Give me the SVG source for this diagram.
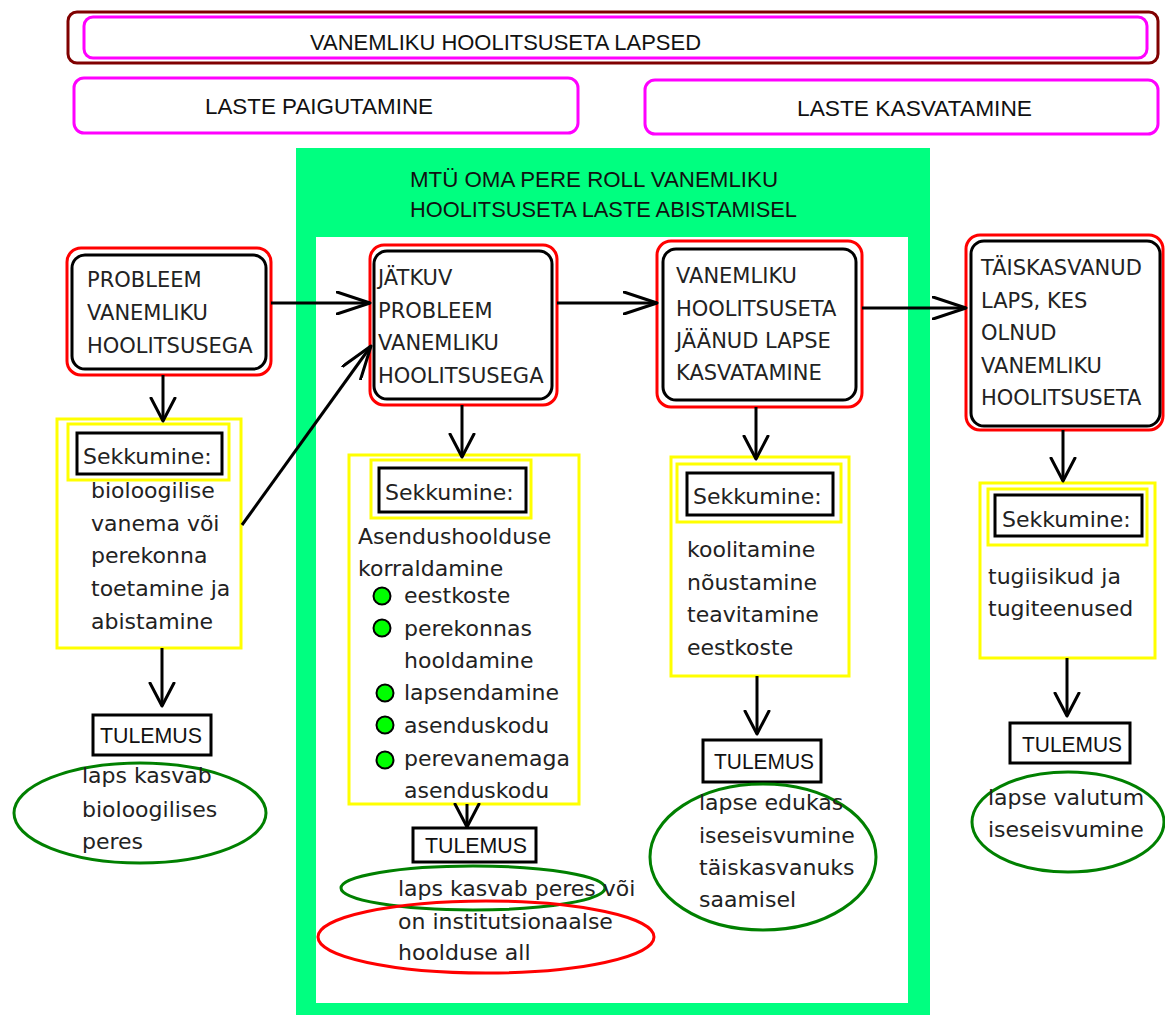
<svg xmlns="http://www.w3.org/2000/svg" width="1165" height="1020" viewBox="0 0 1165 1020">
<defs>
<style>
.mag{fill:#fff;stroke:#ff00ff;stroke-width:3}
.dred{fill:none;stroke:#800000;stroke-width:3}
.top{font-family:"Liberation Sans",Arial,sans-serif;font-size:22px;fill:#111}
.red{fill:#fff;stroke:#ff0000;stroke-width:3}
.blk{fill:none;stroke:#000;stroke-width:3}
.nt{font-family:"DejaVu Sans",Verdana,sans-serif;font-size:21px;fill:#222}
.yel{fill:#fff;stroke:#ffff00;stroke-width:3}
.yin{fill:none;stroke:#ffff00;stroke-width:3}
.sk{fill:#fff;stroke:#000;stroke-width:3}
.bt{font-family:"DejaVu Sans",Verdana,sans-serif;font-size:22px;fill:#222}
.tul{font-family:"Liberation Sans",Arial,sans-serif;font-size:22px;fill:#111}
.ge{fill:none;stroke:#008000;stroke-width:3}
.re{fill:none;stroke:#ff0000;stroke-width:3}
.bul{fill:#00ff00;stroke:#000;stroke-width:2}
.con{fill:none;stroke:#000;stroke-width:3}
</style>
<marker id="hl" viewBox="0 0 36 24" refX="34" refY="12" markerWidth="36" markerHeight="24" markerUnits="userSpaceOnUse" orient="auto">
<path d="M1,1 L34,12 L1,23" fill="none" stroke="#000" stroke-width="3" stroke-linejoin="round" stroke-linecap="round"/>
</marker>
<marker id="hv" viewBox="0 0 26 28" refX="24" refY="14" markerWidth="26" markerHeight="28" markerUnits="userSpaceOnUse" orient="auto">
<path d="M1,2 L24,14 L1,26" fill="none" stroke="#000" stroke-width="3" stroke-linejoin="round" stroke-linecap="round"/>
</marker>
</defs>
<rect width="1165" height="1020" fill="#fff"/>

<g id="header">
<rect x="68" y="12" width="1090" height="51" rx="9" class="dred"/>
<rect x="84" y="17" width="1063" height="41" rx="9" class="mag"/>
<text x="310" y="50" class="top" textLength="391" lengthAdjust="spacingAndGlyphs">VANEMLIKU HOOLITSUSETA LAPSED</text>
</g>
<g id="paigutamine">
<rect x="74" y="78" width="504" height="55" rx="10" class="mag"/>
<text x="205" y="114" class="top" textLength="228" lengthAdjust="spacingAndGlyphs">LASTE PAIGUTAMINE</text>
</g>
<g id="kasvatamine">
<rect x="645" y="80" width="513" height="54" rx="10" class="mag"/>
<text x="797" y="116" class="top" textLength="235" lengthAdjust="spacingAndGlyphs">LASTE KASVATAMINE</text>
</g>

<g id="mtu">
<rect x="296" y="148" width="634" height="867" fill="#00ff80"/>
<rect x="316" y="237" width="592" height="766" fill="#fff"/>
<text x="410" y="187" class="top" textLength="368" lengthAdjust="spacingAndGlyphs">MTÜ OMA PERE ROLL VANEMLIKU</text>
<text x="410" y="217" class="top" textLength="387" lengthAdjust="spacingAndGlyphs">HOOLITSUSETA LASTE ABISTAMISEL</text>
</g>

<g id="n1">
<rect x="67" y="248" width="204" height="127" rx="14" class="red"/>
<rect x="72" y="255" width="194" height="114" rx="13" class="blk"/>
<text class="nt"><tspan x="87" y="287">PROBLEEM</tspan><tspan x="87" y="320">VANEMLIKU</tspan><tspan x="87" y="353">HOOLITSUSEGA</tspan></text>
</g>
<g id="n2">
<rect x="370" y="245" width="187" height="160" rx="14" class="red"/>
<rect x="374" y="251" width="178" height="148" rx="13" class="blk"/>
<text class="nt"><tspan x="378" y="285">JÄTKUV</tspan><tspan x="378" y="318">PROBLEEM</tspan><tspan x="378" y="350">VANEMLIKU</tspan><tspan x="378" y="383">HOOLITSUSEGA</tspan></text>
</g>
<g id="n3">
<rect x="657" y="241" width="205" height="166" rx="14" class="red"/>
<rect x="663" y="249" width="193" height="151" rx="13" class="blk"/>
<text class="nt"><tspan x="676" y="283">VANEMLIKU</tspan><tspan x="676" y="316">HOOLITSUSETA</tspan><tspan x="676" y="348">JÄÄNUD LAPSE</tspan><tspan x="676" y="380">KASVATAMINE</tspan></text>
</g>
<g id="n4">
<rect x="966" y="235" width="197" height="195" rx="14" class="red"/>
<rect x="971" y="241" width="189" height="185" rx="13" class="blk"/>
<text class="nt"><tspan x="981" y="275">TÄISKASVANUD</tspan><tspan x="981" y="308">LAPS, KES</tspan><tspan x="981" y="340">OLNUD</tspan><tspan x="981" y="373">VANEMLIKU</tspan><tspan x="981" y="405">HOOLITSUSETA</tspan></text>
</g>

<g id="s1">
<rect x="57" y="419" width="184" height="229" class="yel"/>
<rect x="68" y="424" width="161" height="56" class="yin"/>
<rect x="77" y="433" width="145" height="41" class="sk"/>
<text x="83" y="464" class="bt">Sekkumine:</text>
<text class="bt"><tspan x="91" y="498">bioloogilise</tspan><tspan x="91" y="531">vanema või</tspan><tspan x="91" y="563">perekonna</tspan><tspan x="91" y="596">toetamine ja</tspan><tspan x="91" y="629">abistamine</tspan></text>
</g>
<g id="s2">
<rect x="349" y="455" width="230" height="349" class="yel"/>
<rect x="371" y="460" width="160" height="58" class="yin"/>
<rect x="379" y="468" width="147" height="44" class="sk"/>
<text x="385" y="500" class="bt">Sekkumine:</text>
<text class="bt"><tspan x="358" y="544">Asendushoolduse</tspan><tspan x="358" y="576">korraldamine</tspan></text>
<circle cx="382" cy="596" r="8.5" class="bul"/>
<circle cx="382" cy="628" r="8.5" class="bul"/>
<circle cx="385" cy="693" r="8.5" class="bul"/>
<circle cx="385" cy="725" r="8.5" class="bul"/>
<circle cx="385" cy="760" r="8.5" class="bul"/>
<text class="bt"><tspan x="404" y="603">eestkoste</tspan><tspan x="404" y="636">perekonnas</tspan><tspan x="404" y="668">hooldamine</tspan><tspan x="404" y="700">lapsendamine</tspan><tspan x="404" y="733">asenduskodu</tspan><tspan x="404" y="766">perevanemaga</tspan><tspan x="404" y="798">asenduskodu</tspan></text>
</g>
<g id="s3">
<rect x="671" y="457" width="178" height="219" class="yel"/>
<rect x="677" y="464" width="164" height="58" class="yin"/>
<rect x="687" y="473" width="146" height="42" class="sk"/>
<text x="693" y="504" class="bt">Sekkumine:</text>
<text class="bt"><tspan x="687" y="557">koolitamine</tspan><tspan x="687" y="590">nõustamine</tspan><tspan x="687" y="622">teavitamine</tspan><tspan x="687" y="655">eestkoste</tspan></text>
</g>
<g id="s4">
<rect x="980" y="483" width="175" height="175" class="yel"/>
<rect x="988" y="489" width="159" height="56" class="yin"/>
<rect x="995" y="495" width="147" height="41" class="sk"/>
<text x="1002" y="527" class="bt">Sekkumine:</text>
<text class="bt"><tspan x="988" y="584">tugiisikud ja</tspan><tspan x="988" y="616">tugiteenused</tspan></text>
</g>

<g id="t1">
<rect x="93" y="715" width="118" height="40" class="sk"/>
<text x="100" y="743" class="tul" textLength="102" lengthAdjust="spacingAndGlyphs">TULEMUS</text>
</g>
<g id="t2">
<rect x="413" y="828" width="123" height="34" class="sk"/>
<text x="425" y="853" class="tul" textLength="102" lengthAdjust="spacingAndGlyphs">TULEMUS</text>
</g>
<g id="t3">
<rect x="703" y="740" width="118" height="42" class="sk"/>
<text x="714" y="769" class="tul" textLength="100" lengthAdjust="spacingAndGlyphs">TULEMUS</text>
</g>
<g id="t4">
<rect x="1010" y="723" width="120" height="40" class="sk"/>
<text x="1022" y="752" class="tul" textLength="100" lengthAdjust="spacingAndGlyphs">TULEMUS</text>
</g>

<g id="r1">
<ellipse cx="140" cy="813" rx="126" ry="50" class="ge"/>
<text class="bt"><tspan x="82" y="783">laps kasvab</tspan><tspan x="82" y="817">bioloogilises</tspan><tspan x="82" y="849">peres</tspan></text>
</g>
<g id="r2">
<ellipse cx="473" cy="888" rx="132" ry="22" class="ge"/>
<ellipse cx="486" cy="937" rx="168" ry="36" class="re"/>
<text class="bt"><tspan x="398" y="896">laps kasvab peres või</tspan><tspan x="398" y="929">on institutsionaalse</tspan><tspan x="398" y="960">hoolduse all</tspan></text>
</g>
<g id="r3">
<ellipse cx="763" cy="857" rx="113" ry="73" class="ge"/>
<text class="bt"><tspan x="699" y="810">lapse edukas</tspan><tspan x="699" y="843">iseseisvumine</tspan><tspan x="699" y="875">täiskasvanuks</tspan><tspan x="699" y="907">saamisel</tspan></text>
</g>
<g id="r4">
<ellipse cx="1068" cy="822" rx="96" ry="50" class="ge"/>
<text class="bt"><tspan x="988" y="805">lapse valutum</tspan><tspan x="988" y="837">iseseisvumine</tspan></text>
</g>

<g id="connectors">
<line x1="271" y1="303" x2="370" y2="303" class="con" marker-end="url(#hl)"/>
<line x1="242" y1="525" x2="371" y2="346" class="con" marker-end="url(#hl)"/>
<line x1="557" y1="303" x2="657" y2="303" class="con" marker-end="url(#hl)"/>
<line x1="862" y1="308" x2="966" y2="308" class="con" marker-end="url(#hl)"/>
<line x1="163" y1="375" x2="163" y2="421" class="con" marker-end="url(#hv)"/>
<line x1="462" y1="405" x2="462" y2="457" class="con" marker-end="url(#hv)"/>
<line x1="756" y1="407" x2="756" y2="459" class="con" marker-end="url(#hv)"/>
<line x1="1063" y1="430" x2="1063" y2="481" class="con" marker-end="url(#hv)"/>
<line x1="162" y1="648" x2="162" y2="706" class="con" marker-end="url(#hv)"/>
<line x1="467" y1="804" x2="467" y2="827" class="con" marker-end="url(#hv)"/>
<line x1="757" y1="676" x2="757" y2="734" class="con" marker-end="url(#hv)"/>
<line x1="1067" y1="658" x2="1067" y2="716" class="con" marker-end="url(#hv)"/>
</g>
</svg>
